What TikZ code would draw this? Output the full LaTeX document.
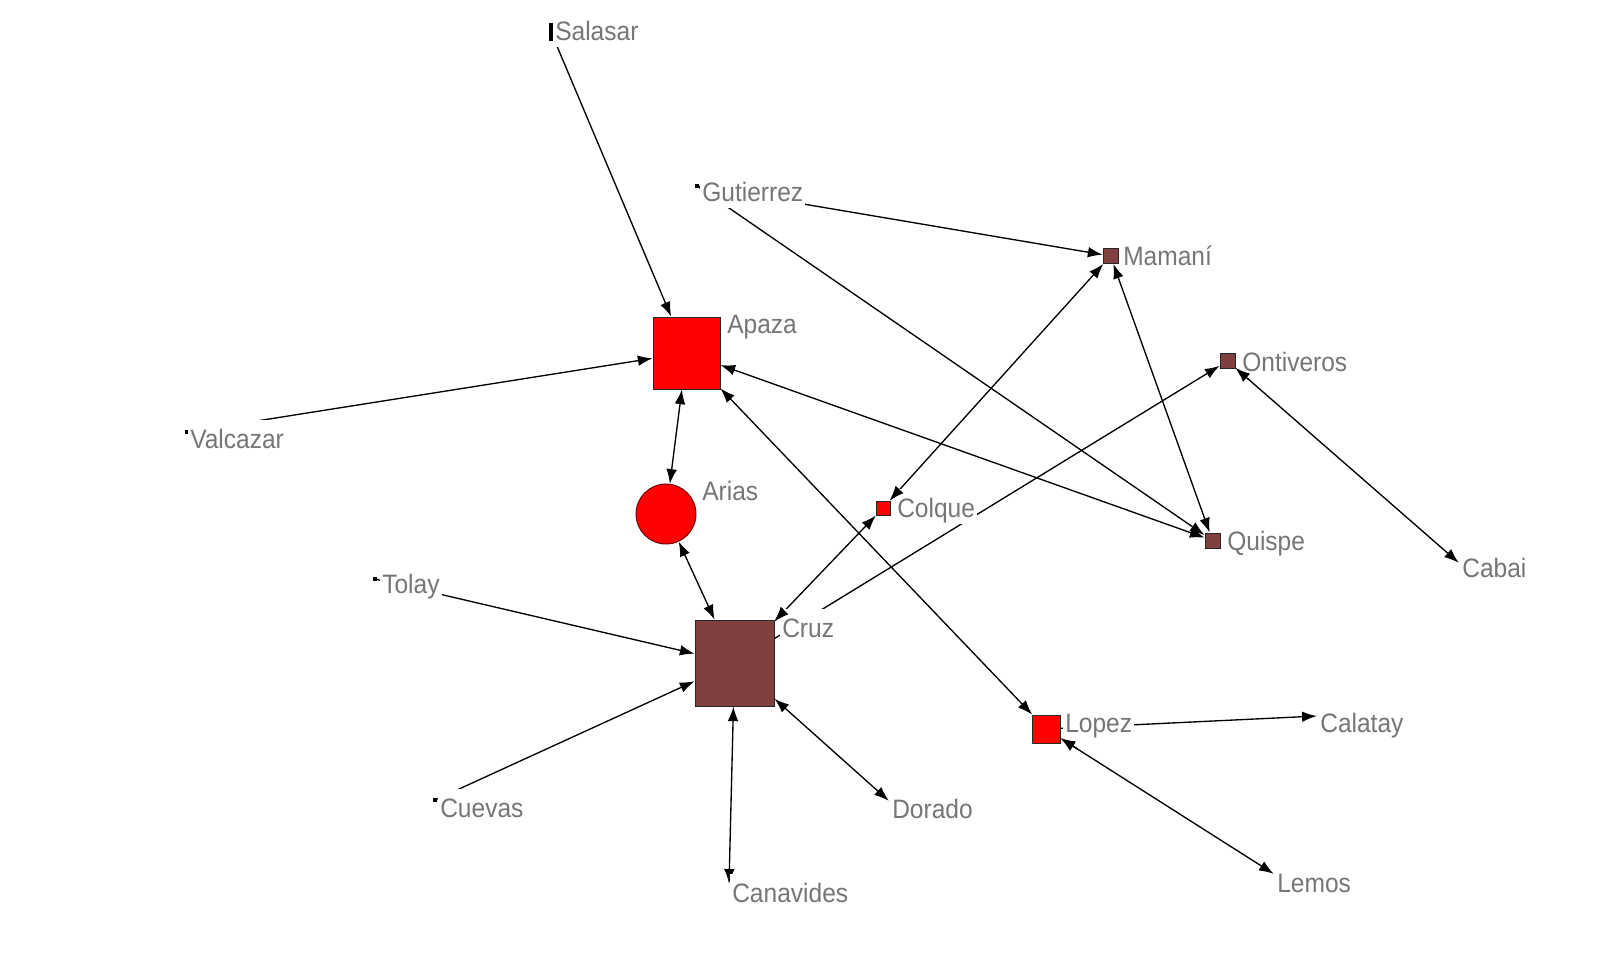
\documentclass[tikz,border=0pt]{standalone}
\usepackage{fontspec}
\setmainfont{Liberation Sans}[FakeStretch=0.92]
\usetikzlibrary{arrows.meta,calc}
\definecolor{brn}{RGB}{128,64,64}
\definecolor{lbl}{RGB}{118,118,118}
\begin{document}
\begin{tikzpicture}[x=0.75pt,y=-0.75pt,
  pt/.style={rectangle,fill=black,inner sep=0pt,minimum size=2.5pt},
  tgt/.style={inner sep=0pt,minimum size=0pt},
  sq/.style={rectangle,draw=black!85,line width=0.7pt,inner sep=0pt},
  lab/.style={anchor=base west,fill=white,inner xsep=1.5pt,inner ysep=0pt,text height=21pt,text depth=5pt,text=lbl,font=\fontsize{20pt}{22pt}\selectfont},
  e/.style={line width=1pt,-{Latex[length=11pt,width=8pt]}},
  ee/.style={line width=1pt,{Latex[length=11pt,width=8pt]}-{Latex[length=11pt,width=8pt]}}]
\useasboundingbox (0,0) rectangle (1608,961);
% main nodes
\node[sq,fill=red,minimum width=50.25pt,minimum height=54pt] (apaza) at (686.5,353) {};
\node[circle,draw=black!60!red,line width=0.7pt,fill=red,minimum size=45pt,inner sep=0pt] (arias) at (666,514) {};
\node[sq,fill=brn,minimum width=59.25pt,minimum height=64.5pt] (cruz) at (734.5,663) {};
\node[sq,fill=brn,minimum size=11.25pt] (mamani) at (1110.5,256) {};
\node[sq,fill=brn,minimum size=11.25pt] (ontiveros) at (1227.5,361) {};
\node[sq,fill=brn,minimum size=11.25pt] (quispe) at (1212.5,540.5) {};
\node[sq,fill=red,minimum size=10.5pt] (colque) at (883,508) {};
\node[sq,fill=red,minimum size=21pt] (lopez) at (1046,729) {};
% point nodes
\node[rectangle,fill=black,inner sep=0pt,minimum width=3pt,minimum height=13pt] (salasar) at (551,32) {};
\node[pt] (gutierrez) at (697,186) {};
\node[pt] (valcazar) at (187,432) {};
\node[pt] (tolay) at (375,579) {};
\node[pt] (cuevas) at (435,800) {};
\node[tgt] (cabai) at (1459,563) {};
\node[tgt] (calatay) at (1317,716) {};
\node[tgt] (dorado) at (889,801) {};
\node[tgt] (canavides) at (729,884) {};
\node[tgt] (lemos) at (1274,874) {};
% edges
\draw[e] (salasar) -- (apaza);
\draw[e] (valcazar) -- (apaza);
\draw[ee] (apaza) -- (arias);
\draw[ee] (arias) -- (cruz);
\draw[ee] (apaza) -- (quispe);
\draw[ee] (apaza) -- (lopez);
\draw[e] (gutierrez) -- (mamani);
\draw[e] (gutierrez) -- (quispe);
\draw[ee] (mamani) -- (quispe);
\draw[ee] (cruz) -- (colque);
\draw[ee] (colque) -- (mamani);
\draw[e] (cruz) -- (ontiveros);
\draw[ee] (ontiveros) -- (cabai);
\draw[e] (tolay) -- (cruz);
\draw[e] (cuevas) -- (cruz);
\draw[ee] (cruz) -- (canavides);
\draw[ee] (cruz) -- (dorado);
\draw[e] (lopez) -- (calatay);
\draw[ee] (lopez) -- (lemos);
% labels
\node[lab] (lsalasar) at (553,40) {Salasar};
\node[lab] (lgutierrez) at (700,201) {Gutierrez};
\node[lab] (lmamani) at (1121,265) {Mamaní};
\node[lab] (lapaza) at (725,333) {Apaza};
\node[lab] (lontiveros) at (1240,371) {Ontiveros};
\node[lab] (lvalcazar) at (188,448) {Valcazar};
\node[lab] (larias) at (700,500) {Arias};
\node[lab] (lcolque) at (895,517) {Colque};
\node[lab] (lquispe) at (1225,550) {Quispe};
\node[lab] (lcabai) at (1460,577) {Cabai};
\node[lab] (ltolay) at (380,593) {Tolay};
\node[lab] (lcruz) at (780,637) {Cruz};
\node[lab] (llopez) at (1063,732) {Lopez};
\node[lab] (lcalatay) at (1318,732) {Calatay};
\node[lab] (lcuevas) at (438,817) {Cuevas};
\node[lab] (ldorado) at (890,818) {Dorado};
\node[lab] (lcanavides) at (730,902) {Canavides};
\node[lab] (llemos) at (1275,892) {Lemos};
% arrowheads that sit over label backgrounds
\draw[e] ($(ontiveros)!22pt!(cabai)$) -- (ontiveros);
\draw[e] ($(lopez)!28pt!(lemos)$) -- (lopez);
\draw[e] ($(cruz)!48pt!(colque)$) -- (cruz);
\draw[e] ($(colque)!18pt!(mamani)$) -- (colque);
\end{tikzpicture}
\end{document}
